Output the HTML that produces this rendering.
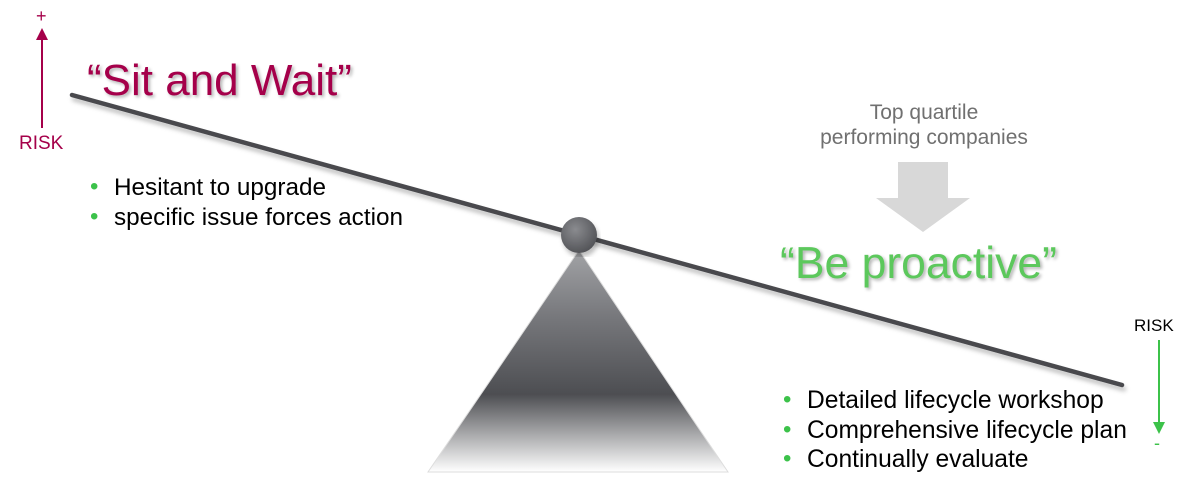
<!DOCTYPE html>
<html><head><meta charset="utf-8"><style>
body{margin:0;width:1197px;height:481px;background:#fff;overflow:hidden;position:relative;font-family:"Liberation Sans",Arial,sans-serif}
.t{position:absolute;white-space:nowrap;line-height:1}
.b{position:absolute;white-space:nowrap;line-height:1}
.b span{position:absolute;left:-24px;color:#3cc24a;font-size:24px;top:-1px}
</style></head><body>
<svg width="1197" height="481" style="position:absolute;left:0;top:0">
<defs>
<linearGradient id="tg" x1="0" y1="0" x2="0" y2="1">
<stop offset="0" stop-color="#a2a3a6"/><stop offset="0.3" stop-color="#77787c"/><stop offset="0.65" stop-color="#4d4e52"/><stop offset="1" stop-color="#ffffff"/>
</linearGradient>
<radialGradient id="cg" cx="0.4" cy="0.35" r="0.7"><stop offset="0" stop-color="#8a8b8f"/><stop offset="1" stop-color="#505155"/></radialGradient>
<filter id="sh"><feDropShadow dx="2" dy="4" stdDeviation="2" flood-color="#000" flood-opacity="0.25"/></filter>
</defs>
<polygon points="579,250 428,472 728,472" fill="url(#tg)" stroke="#ddd" stroke-width="1"/>
<line x1="72" y1="95" x2="1122" y2="385" stroke="#48494d" stroke-width="4.5" stroke-linecap="round" filter="url(#sh)"/>
<circle cx="579" cy="235" r="18" fill="url(#cg)" filter="url(#sh)"/>
<line x1="42" y1="128" x2="42" y2="38" stroke="#a5004a" stroke-width="2"/>
<polygon points="36,40 48,40 42,28" fill="#a5004a"/>
<line x1="1159" y1="340" x2="1159" y2="424" stroke="#3cc24a" stroke-width="2"/>
<polygon points="1153,422 1165,422 1159,434" fill="#3cc24a"/>
<polygon points="898,162 948,162 948,198 970,198 923,232 876,198 898,198" fill="#d8d8d8"/>
</svg>
<div class="t" style="left:36px;top:7px;font-size:18px;color:#a5004a">+</div>
<div class="t" style="left:19px;top:134px;font-size:19px;color:#a5004a">RISK</div>
<div class="t" style="left:1134px;top:317px;font-size:17px;color:#000">RISK</div>
<div class="t" style="left:1154px;top:434px;font-size:18px;color:#3cc24a">-</div>
<div class="t" style="left:87px;top:59px;font-size:44px;color:#a5004a;text-shadow:2px 2px 3px rgba(0,0,0,.3)">“Sit and Wait”</div>
<div class="b" style="left:114px;top:176px;font-size:24.3px"><span>•</span>Hesitant to upgrade</div>
<div class="b" style="left:114px;top:206px;font-size:24.3px"><span>•</span>specific issue forces action</div>
<div class="t" style="left:774px;top:100px;width:300px;text-align:center;font-size:21px;color:#707070;line-height:25px">Top quartile<br>performing companies</div>
<div class="t" style="left:780px;top:242px;font-size:44.5px;color:#5cc85c;text-shadow:2px 2px 3px rgba(0,0,0,.3)">“Be proactive”</div>
<div class="b" style="left:807px;top:389px;font-size:24.6px"><span>•</span>Detailed lifecycle workshop</div>
<div class="b" style="left:807px;top:419px;font-size:24.6px"><span>•</span>Comprehensive lifecycle plan</div>
<div class="b" style="left:807px;top:448px;font-size:24.6px"><span>•</span>Continually evaluate</div>
</body></html>
